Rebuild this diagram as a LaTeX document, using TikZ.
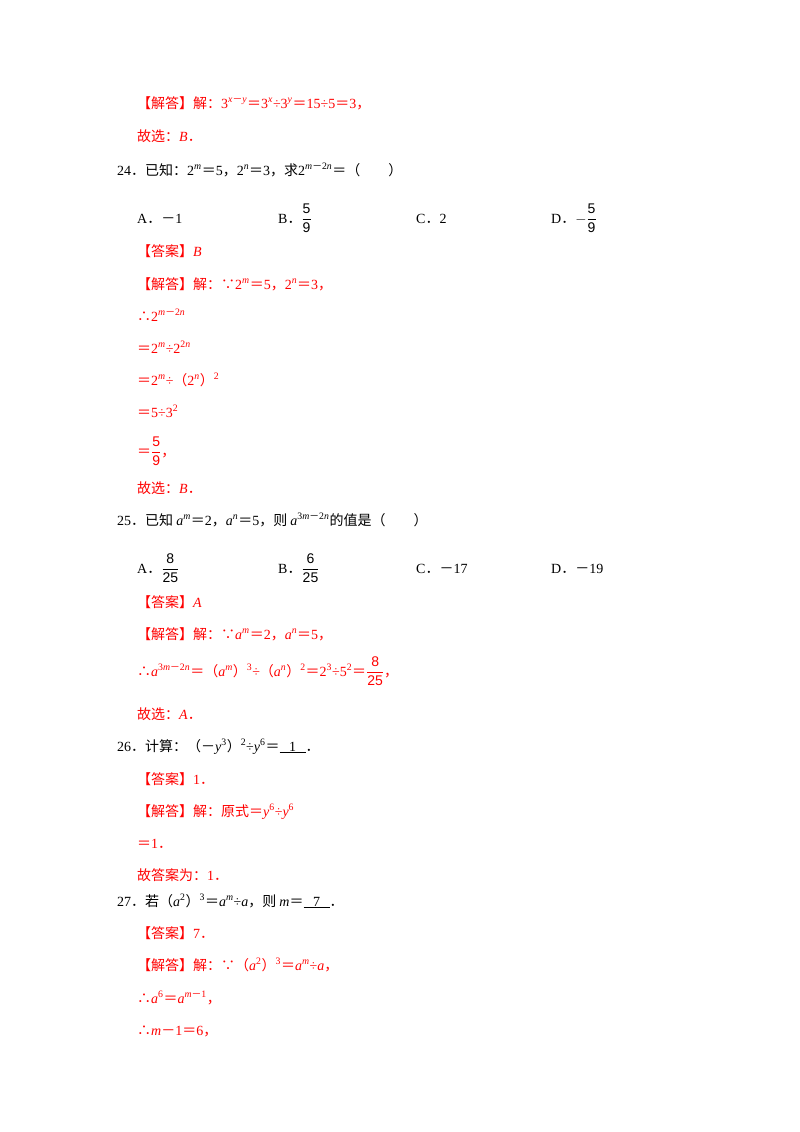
\documentclass[tikz,border=0pt]{standalone}
\usepackage{fontspec}
\setmainfont{Liberation Serif}
\newfontfamily\cjk{Noto Sans CJK SC}
\newfontfamily\sfr{Liberation Sans}
\newcommand{\zh}[1]{{\cjk #1}}
\newcommand{\mi}{{\cjk －}}
\newcommand{\fr}[2]{$\displaystyle\frac{\hbox{\sfr #1}}{\hbox{\sfr #2}}$}
\newcommand{\su}[1]{\textsuperscript{#1}}
\definecolor{ans}{RGB}{255,0,0}
\begin{document}
\begin{tikzpicture}[x=1pt,y=-1pt,
  t/.style={anchor=base west,inner sep=0pt,font=\fontsize{14}{16}\selectfont},
  r/.style={t,text=ans}]
\useasboundingbox (0,0) rectangle (800,1132);
\fill[white] (0,0) rectangle (800,1132);
\node[r] (l1) at (137,108) {\zh{【解答】解：}3\su{\textit{x}\mi\textit{y}}\zh{＝}3\su{\textit{x}}÷3\su{\textit{y}}\zh{＝}15÷5\zh{＝}3\zh{，}};
\node[r] (l2) at (137,141) {\zh{故选：}\textit{B}\zh{．}};
\node[t] (q24) at (117,175) {24\zh{．已知：}2\su{\textit{m}}\zh{＝}5\zh{，}2\su{\textit{n}}\zh{＝}3\zh{，求}2\su{\textit{m}\mi2\textit{n}}\zh{＝（　　）}};
\node[t] (a24) at (137,223) {A\zh{．}\mi1};
\node[t] (b24) at (278,223) {B\zh{．}\fr{5}{9}};
\node[t] (c24) at (416,223) {C\zh{．}2};
\node[t] (d24) at (551,223) {D\zh{．}$-$\fr{5}{9}};
\node[r] (l3) at (137,256) {\zh{【答案】}\textit{B}};
\node[r] (l4) at (137,289) {\zh{【解答】解：∵}2\su{\textit{m}}\zh{＝}5\zh{，}2\su{\textit{n}}\zh{＝}3\zh{，}};
\node[r] (l5) at (137,321) {\zh{∴}2\su{\textit{m}\mi2\textit{n}}};
\node[r] (l6) at (137,353) {\zh{＝}2\su{\textit{m}}÷2\su{2\textit{n}}};
\node[r] (l7) at (137,385) {\zh{＝}2\su{\textit{m}}÷\zh{（}2\su{\textit{n}}\zh{）}\su{2}};
\node[r] (l8) at (137,417) {\zh{＝}5÷3\su{2}};
\node[r] (l9) at (137,456) {\zh{＝}\fr{5}{9}\zh{，}};
\node[r] (l10) at (137,493) {\zh{故选：}\textit{B}\zh{．}};
\node[t] (q25) at (117,525) {25\zh{．已知 }\textit{a}\su{\textit{m}}\zh{＝}2\zh{，}\textit{a}\su{\textit{n}}\zh{＝}5\zh{，则 }\textit{a}\su{3\textit{m}\mi2\textit{n}}\zh{的值是（　　）}};
\node[t] (a25) at (137,573) {A\zh{．}\fr{8}{25}};
\node[t] (b25) at (278,573) {B\zh{．}\fr{6}{25}};
\node[t] (c25) at (416,573) {C\zh{．}\mi17};
\node[t] (d25) at (551,573) {D\zh{．}\mi19};
\node[r] (l11) at (137,607) {\zh{【答案】}\textit{A}};
\node[r] (l12) at (137,639) {\zh{【解答】解：∵}\textit{a}\su{\textit{m}}\zh{＝}2\zh{，}\textit{a}\su{\textit{n}}\zh{＝}5\zh{，}};
\node[r] (l13) at (137,676) {\zh{∴}\textit{a}\su{3\textit{m}\mi2\textit{n}}\zh{＝（}\textit{a}\su{\textit{m}}\zh{）}\su{3}÷\zh{（}\textit{a}\su{\textit{n}}\zh{）}\su{2}\zh{＝}2\su{3}÷5\su{2}\zh{＝}\fr{8}{25}\zh{，}};
\node[r] (l14) at (137,719) {\zh{故选：}\textit{A}\zh{．}};
\node[t] (q26) at (117,751) {26\zh{．计算：（}\mi\textit{y}\su{3}\zh{）}\su{2}÷\textit{y}\su{6}\zh{＝}\underline{\hspace{6pt}\ 1\ \hspace{6pt}}\zh{．}};
\node[r] (l15) at (137,784) {\zh{【答案】}1\zh{．}};
\node[r] (l16) at (137,816) {\zh{【解答】解：原式＝}\textit{y}\su{6}÷\textit{y}\su{6}};
\node[r] (l17) at (137,848) {\zh{＝}1\zh{．}};
\node[r] (l18) at (137,880) {\zh{故答案为：}1\zh{．}};
\node[t] (q27) at (117,906) {27\zh{．若（}\textit{a}\su{2}\zh{）}\su{3}\zh{＝}\textit{a}\su{\textit{m}}÷\textit{a}\zh{，则 }\textit{m}\zh{＝}\underline{\hspace{6pt}\ 7\ \hspace{6pt}}\zh{．}};
\node[r] (l19) at (137,938) {\zh{【答案】}7\zh{．}};
\node[r] (l20) at (137,970) {\zh{【解答】解：∵（}\textit{a}\su{2}\zh{）}\su{3}\zh{＝}\textit{a}\su{\textit{m}}÷\textit{a}\zh{，}};
\node[r] (l21) at (137,1003) {\zh{∴}\textit{a}\su{6}\zh{＝}\textit{a}\su{\textit{m}\mi1}\zh{，}};
\node[r] (l22) at (137,1035) {\zh{∴}\textit{m}\mi1\zh{＝}6\zh{，}};
\end{tikzpicture}
\end{document}
